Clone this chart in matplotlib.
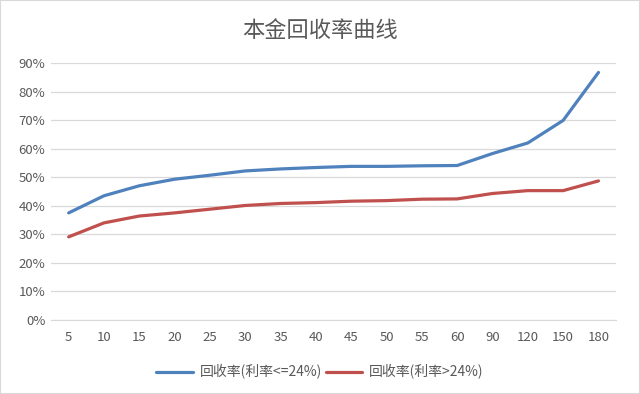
import matplotlib
matplotlib.use("Agg")
import matplotlib.pyplot as plt
from matplotlib.patches import Rectangle
from matplotlib.ticker import PercentFormatter

plt.rcParams['font.family'] = ['Noto Sans CJK SC', 'DejaVu Sans']

days = ['5', '10', '15', '20', '25', '30', '35', '40', '45', '50', '55', '60',
        '90', '120', '150', '180']
low_rate = [37.5, 43.5, 47.0, 49.3, 50.7, 52.2, 52.9, 53.4, 53.8, 53.8, 54.0, 54.1,
            58.3, 62.0, 69.9, 86.7]
high_rate = [29.1, 34.0, 36.4, 37.5, 38.8, 40.1, 40.8, 41.1, 41.6, 41.8, 42.3, 42.4,
             44.3, 45.3, 45.3, 48.7]
labels = ['回收率(利率<=24%)', '回收率(利率>24%)']
title = '本金回收率曲线'

fig = plt.figure(figsize=(6.4, 3.94), dpi=100)
fig.patches.append(Rectangle((0, 0), 1, 1, transform=fig.transFigure,
                             fill=False, edgecolor='#d9d9d9', lw=1.5))
ax = fig.add_axes([0.0797, 0.188, 0.883, 0.652])

x = range(len(days))
ax.plot(x, low_rate, color='#4F81BD', lw=2.3, label=labels[0],
        solid_capstyle='round')
ax.plot(x, high_rate, color='#C0504D', lw=2.3, label=labels[1],
        solid_capstyle='round')

ax.set_xlim(-0.5, len(days) - 0.5)
ax.set_ylim(0, 90)
ax.set_yticks(range(0, 91, 10))
ax.yaxis.set_major_formatter(PercentFormatter(decimals=0))
ax.set_xticks(list(x))
ax.set_xticklabels(days)
ax.grid(axis='y', color='#d9d9d9', lw=0.9)
ax.set_axisbelow(True)
for s in ['top', 'right', 'left']:
    ax.spines[s].set_visible(False)
ax.spines['bottom'].set_color('#d9d9d9')
ax.tick_params(length=0, colors='#595959', labelsize=9.5, pad=8)
ax.tick_params(axis='y', pad=4)

fig.text(0.5, 0.922, title, ha='center', va='center', fontsize=16, color='#595959')
fig.legend(loc='center', bbox_to_anchor=(0.5, 0.056), ncol=2, frameon=False,
           fontsize=10, labelcolor='#595959', handlelength=2.6,
           columnspacing=0.3, handletextpad=0.5)

fig.savefig('out.png', dpi=100)
